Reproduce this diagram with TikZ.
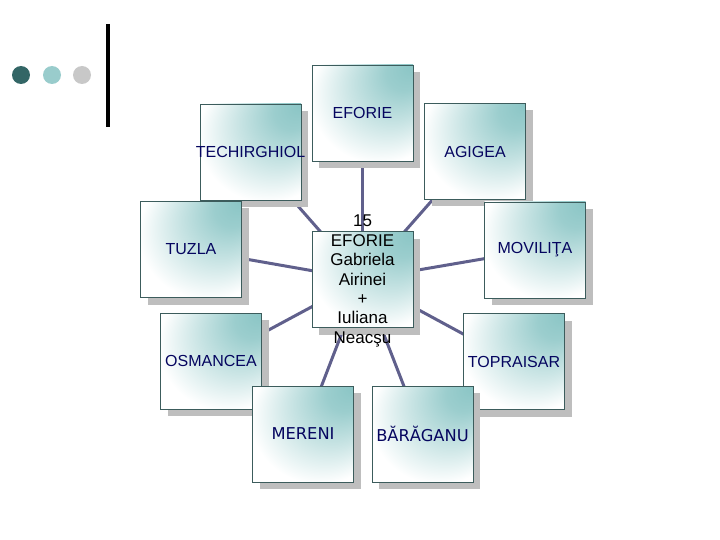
\documentclass[tikz,border=0pt]{standalone}
\usepackage{fontspec}
\setmainfont{Liberation Sans}
\newfontfamily\tahomalike{DejaVu Sans}
\usetikzlibrary{shadows,backgrounds}
\definecolor{tealc}{RGB}{138,197,197}
\definecolor{boxline}{RGB}{60,92,92}
\definecolor{shadowgray}{RGB}{190,190,190}
\definecolor{navyc}{RGB}{5,5,95}
\definecolor{connc}{RGB}{96,96,140}
\definecolor{dotdark}{RGB}{51,102,102}
\definecolor{dotlight}{RGB}{153,204,204}
\definecolor{dotgray}{RGB}{200,200,200}
\pgfdeclareradialshading{cornershade}{\pgfpoint{25bp}{25bp}}{color(0bp)=(tealc); color(9bp)=(tealc!85!white); color(21bp)=(tealc!45!white); color(34bp)=(white); color(50bp)=(white)}
\tikzset{
  box/.style={draw=boxline, line width=0.8pt, minimum width=101pt, minimum height=96pt,
    inner sep=0pt, shade, shading=cornershade,
    drop shadow={shadow xshift=7pt, shadow yshift=-7pt, fill=shadowgray, opacity=1}},
  lbl/.style={text=navyc, font=\fontsize{16}{19}\selectfont, inner sep=0pt},
  lblt/.style={text=navyc, font=\tahomalike\fontsize{16.3}{19}\selectfont, inner sep=0pt},
  conn/.style={draw=connc, line width=3pt},
}
\begin{document}
\begin{tikzpicture}[x=1pt,y=-1pt]
\useasboundingbox (0,0) rectangle (720,540);
% decoration
\fill[dotdark] (21,75) circle (9);
\fill[dotlight] (52,75) circle (9);
\fill[dotgray] (82,75) circle (9);
\draw[line width=4pt] (108,24) -- (108,127);
% boxes
\node[box] (eforie) at (362.5,113) {};
\node[box] (techir) at (250.5,152) {};
\node[box] (agigea) at (475,151.5) {};
\node[box] (tuzla) at (191,249.5) {};
\node[box] (movilita) at (535,250) {};
\node[box] (hub) at (362.5,279.5) {};
\node[box] (osmancea) at (211,361) {};
\node[box] (topraisar) at (514,361.5) {};
\node[box] (mereni) at (303,434) {};
\node[box] (baraganu) at (422.5,434) {};
% connectors
\begin{pgfonlayer}{background}
\foreach \t in {eforie,techir,agigea,tuzla,movilita,osmancea,topraisar,mereni,baraganu}
  \draw[conn] (hub.center) -- (\t.center);
\end{pgfonlayer}
% labels
\node[lbl] (l-eforie) at (eforie.center) {EFORIE};
\node[lbl] (l-techir) at (techir.center) {TECHIRGHIOL};
\node[lbl] (l-agigea) at (agigea.center) {AGIGEA};
\node[lbl] (l-tuzla) at (tuzla.center) {TUZLA};
\node[lbl] (l-movilita) at (movilita.center) {MOVILIŢA};
\node[lbl] (l-osmancea) at (osmancea.center) {OSMANCEA};
\node[lbl] (l-topraisar) at (topraisar.center) {TOPRAISAR};
\node[lblt] (l-mereni) at (mereni.center) {MERENI};
\node[lblt] (l-baraganu) at (baraganu.center) {BĂRĂGANU};
\node[inner sep=0pt, align=center, font=\fontsize{17}{19.4}\selectfont] (l-hub) at ([yshift=-1.5pt]hub.center)
  {15\\EFORIE\\Gabriela\\Airinei\\+\\Iuliana\\Neacşu};
\end{tikzpicture}
\end{document}
